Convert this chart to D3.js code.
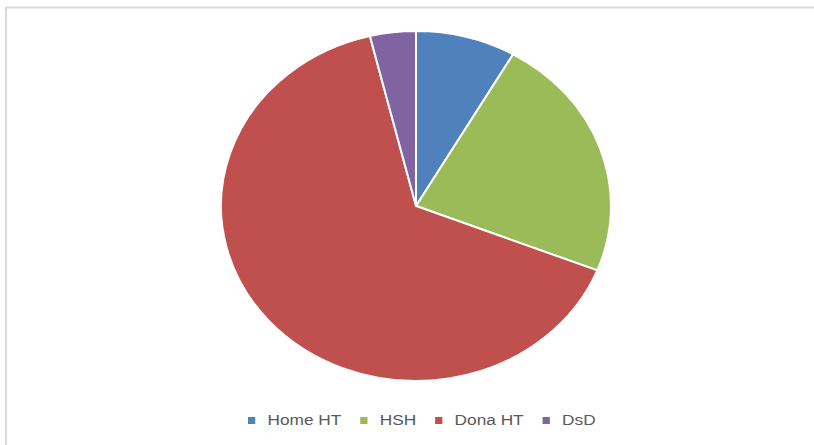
<!DOCTYPE html>
<html>
<head>
	<title>Pie Chart</title>
	<script src="https://d3js.org/d3.v7.min.js" charset="utf-8"></script>
	<style>
		body { margin: 0; background: #fff; }
	</style>
</head>
<body>
	<svg width="814" height="445"></svg>
	<script>
		// values (percent shares)
		var categories = ['Home HT', 'HSH', 'Dona HT', 'DsD'];
		var shares = [8.3, 22.7, 65.2, 3.8];
		var colors = ['#4F81BD', '#9BBB59', '#C0504D', '#8064A2'];

		const cx = 416, cy = 206;
		const ry = 175, rx = 195;
		const stretch = rx / ry;   // picture is stretched sideways

		var svg = d3.select('svg');

		// chart area border (only top and left visible)
		svg.append('rect')
			.attr('x', 6).attr('y', 7.5)
			.attr('width', 900).attr('height', 500)
			.attr('fill', 'none')
			.attr('stroke', '#d9d9d9')
			.attr('stroke-width', 2);

		var pie = d3.pie().sort(null).value(d => d);
		var arc = d3.arc().innerRadius(0).outerRadius(ry);

		const chart = svg.append('g')
			.attr('transform', `translate(${cx}, ${cy}) scale(${stretch}, 1)`);

		chart.selectAll('path')
			.data(pie(shares))
			.enter()
			.append('path')
			.attr('d', arc)
			.attr('fill', (d, i) => colors[i])
			.attr('stroke', '#fff')
			.attr('stroke-width', 2)
			.attr('vector-effect', 'non-scaling-stroke');

		// legend
		const legend = svg.append('g')
			.attr('transform', `translate(248, 0) scale(${stretch}, 1)`);

		var x = 0;
		categories.forEach(function(name, i) {
			legend.append('rect')
				.attr('x', x).attr('y', 417)
				.attr('width', 6.5).attr('height', 7)
				.attr('fill', colors[i]);
			var t = legend.append('text')
				.attr('x', x + 17.5).attr('y', 425.5)
				.attr('font-family', 'Liberation Sans, Arial, sans-serif')
				.attr('font-size', 15.5)
				.attr('fill', '#595959')
				.text(name);
			x += 17.5 + t.node().getComputedTextLength() + 17;
		});
	</script>
</body>
</html>
